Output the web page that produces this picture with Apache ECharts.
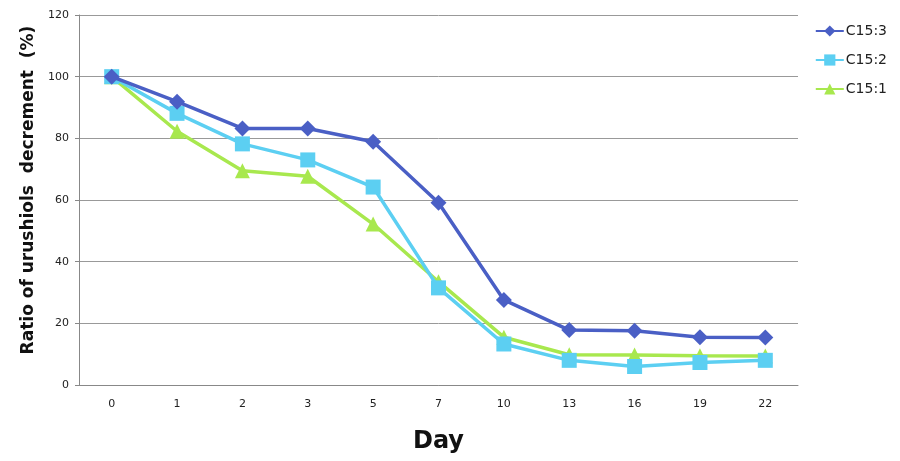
<!DOCTYPE html>
<html><head><meta charset="utf-8">
<script src="https://cdn.jsdelivr.net/npm/echarts@6/dist/echarts.min.js"></script>
<style>html,body{margin:0;padding:0;background:#fff}#c{width:900px;height:461px}</style>
</head><body><div id="c"></div>
<script>
var days = ['0','1','2','3','5','7','10','13','16','19','22'];
var c153 = [100, 91.9, 83.2, 83.2, 78.9, 59.1, 27.6, 17.8, 17.6, 15.5, 15.4];
var c152 = [100, 88.1, 78.2, 73.0, 64.2, 31.5, 13.3, 8.0, 6.0, 7.3, 8.0];
var c151 = [100, 82.3, 69.5, 67.7, 52.2, 33.5, 15.5, 9.8, 9.7, 9.5, 9.4];
var names = ['C15:3','C15:2','C15:1'];
var colors = ['#4a5fc5','#5ccff2','#a8e84e'];
var symbols = ['diamond','rect','triangle'];
var sizes = [16, 15, 15];
var vals = [c153, c152, c151];
var chart = echarts.init(document.getElementById('c'));
chart.setOption({
  animation:false,
  textStyle:{fontFamily:'DejaVu Sans'},
  grid:{left:79, right:102, top:15, bottom:76},
  legend:{
    orient:'vertical', right:8, top:19, itemGap:15, itemWidth:28, itemHeight:14,
    textStyle:{fontSize:14, color:'#222', fontFamily:'DejaVu Sans', padding:[0,0,0,-3]},
    data:names
  },
  xAxis:{
    type:'category', data:days, boundaryGap:true,
    name:'Day', nameLocation:'middle', nameGap:45,
    nameTextStyle:{fontSize:24, fontWeight:'bold', color:'#111', fontFamily:'DejaVu Sans'},
    axisLine:{lineStyle:{color:'#888'}},
    axisTick:{show:false},
    axisLabel:{fontSize:11, color:'#222', margin:14}
  },
  yAxis:{
    type:'value', min:0, max:120, interval:20,
    name:'Ratio of urushiols  decrement  (%)', nameLocation:'middle', nameGap:42,
    nameTextStyle:{fontSize:17, fontWeight:'bold', color:'#111', fontFamily:'DejaVu Sans', padding:[0,0,0,20]},
    axisLine:{show:true, lineStyle:{color:'#888'}},
    axisTick:{show:true, length:4, lineStyle:{color:'#888'}},
    axisLabel:{fontSize:11, color:'#222', margin:10},
    splitLine:{lineStyle:{color:'#999', width:1}}
  },
  series: names.map(function(n,i){
    return {name:n, type:'line', data:vals[i], symbol:symbols[i], symbolSize:sizes[i],
      itemStyle:{color:colors[i]}, lineStyle:{color:colors[i], width:3.5}, z:10-i};
  })
});
</script></body></html>
